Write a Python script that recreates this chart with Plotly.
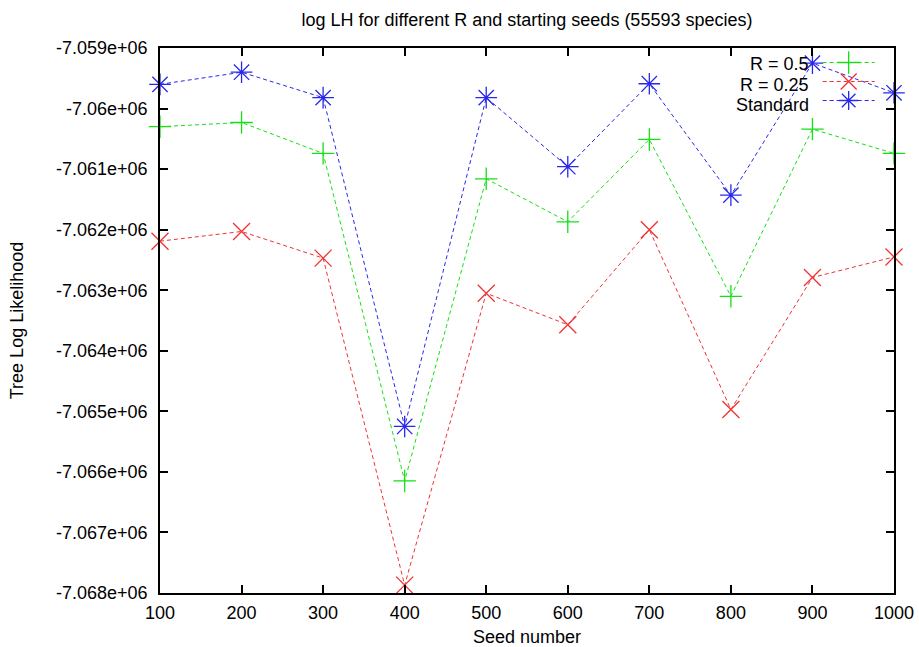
import plotly.graph_objects as go

seeds = [100, 200, 300, 400, 500, 600, 700, 800, 900, 1000]
r05 = [-7060300, -7060230, -7060740, -7066150, -7061160, -7061870, -7060510, -7063100, -7060340, -7060740]
r025 = [-7062190, -7062030, -7062470, -7067870, -7063050, -7063570, -7062000, -7064970, -7062790, -7062450]
standard = [-7059600, -7059400, -7059820, -7065250, -7059820, -7060960, -7059590, -7061430, -7059250, -7059740]
series_names = ["R = 0.5", "R = 0.25", "Standard"]
ytick_vals = [-7059000, -7060000, -7061000, -7062000, -7063000, -7064000, -7065000, -7066000, -7067000, -7068000]
ytick_text = ["-7.059e+06", "-7.06e+06", "-7.061e+06", "-7.062e+06", "-7.063e+06", "-7.064e+06",
              "-7.065e+06", "-7.066e+06", "-7.067e+06", "-7.068e+06"]

colors = ["rgb(20,225,20)", "rgb(240,50,50)", "rgb(40,40,235)"]
symbols = ["cross-thin", "x-thin", "asterisk"]
sizes = [16, 17, 18]

fig = go.Figure()
for name, vals, c, s, sz in zip(series_names, [r05, r025, standard], colors, symbols, sizes):
    fig.add_trace(go.Scatter(
        x=seeds, y=vals, mode="lines+markers", name=" ",
        line=dict(color=c, width=1, dash="4px,3px"),
        marker=dict(symbol=s, size=sz, color=c, line=dict(color=c, width=1.3)),
        cliponaxis=False, hoverinfo="skip",
    ))

FONT = "Liberation Sans, Arial, sans-serif"
legend_rows = [0.9706, 0.933, 0.8954]
for name, yy in zip(series_names, legend_rows):
    fig.add_annotation(text=name, xref="paper", yref="paper", x=0.8865, y=yy,
                       xanchor="right", yanchor="middle", showarrow=False,
                       font=dict(family=FONT, size=18, color="black"))

fig.update_layout(
    width=919, height=647,
    margin=dict(l=160, r=25, t=48, b=54, autoexpand=False),
    paper_bgcolor="white", plot_bgcolor="white",
    font=dict(family=FONT, size=18, color="black"),
    hovermode=False,
    title=dict(text="log LH for different R and starting seeds (55593 species)",
               x=0.5, xref="paper", y=1 - 20 / 647, yanchor="middle",
               font=dict(size=18, family=FONT, color="black")),
    showlegend=True,
    legend=dict(x=0.896, y=1.0, xanchor="left", yanchor="top",
                bgcolor="rgba(0,0,0,0)", font=dict(size=12), itemwidth=52,
                tracegroupgap=0),
    xaxis=dict(range=[100, 1000], tickvals=seeds, ticks="inside", ticklen=8,
               ticklabelstandoff=3,
               showline=True, linecolor="black", linewidth=1.5, mirror="ticks",
               tickcolor="black", tickwidth=1.5, showgrid=False, zeroline=False,
               title=dict(text="Seed number", font=dict(size=18), standoff=19)),
    yaxis=dict(range=[-7068000, -7059000], tickvals=ytick_vals, ticktext=ytick_text,
               ticks="inside", ticklen=8, ticklabelstandoff=7,
               showline=True, linecolor="black", linewidth=1.5, mirror="ticks",
               tickcolor="black", tickwidth=1.5, showgrid=False, zeroline=False,
               title=dict(text="Tree Log Likelihood", font=dict(size=18), standoff=28)),
)

fig.write_html("out.html", config={"displayModeBar": False},
               post_script="document.body.style.margin='0px';document.body.style.overflow='hidden';")
